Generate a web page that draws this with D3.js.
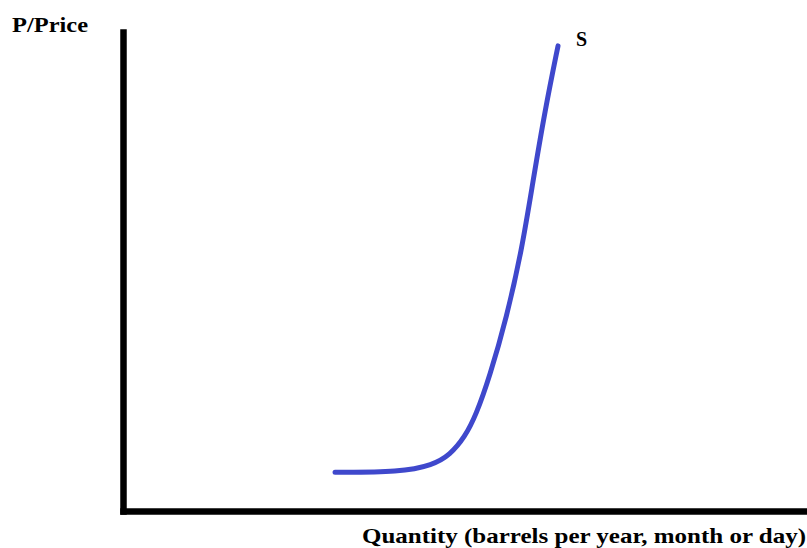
<!DOCTYPE html>
<html>
<head>
<meta charset="utf-8">
<script src="https://cdn.jsdelivr.net/npm/d3@7"></script>
<style>
  body { margin: 0; background: #fff; }
  svg { display: block; }
  text { font-family: "Liberation Serif", "Times New Roman", serif; font-weight: bold; fill: #000; }
</style>
</head>
<body>
<div id="chart"></div>
<script>
// supply curve, quantity vs price (0-100 on both axes)
var quantity = [31.0, 40.5, 45.3, 47.8, 50.0, 51.6, 53.6, 56.1, 58.3, 59.9, 61.7, 63.6];
var price    = [8.1, 8.1, 9.6, 11.7, 15.5, 20.0, 28.0, 40.5, 54.5, 68.5, 83.7, 97.1];
var curveLabel = "S";
var yTitle = "P/Price";
var xTitle = "Quantity (barrels per year, month or day)";

var width = 807, height = 548;

var svg = d3.select("#chart").append("svg")
    .attr("width", width)
    .attr("height", height);

var x = d3.scaleLinear().domain([0, 100]).range([123, 807]);
var y = d3.scaleLinear().domain([0, 100]).range([511, 32]);

// axes: no ticks, just thick black lines
var xAxis = svg.append("g")
    .attr("transform", "translate(0," + y(0) + ")")
    .call(d3.axisBottom(x).tickValues([]).tickSizeOuter(0));
xAxis.select(".domain")
    .attr("stroke", "#000")
    .attr("stroke-width", 6.5)
    .attr("stroke-linecap", "square");

var yAxis = svg.append("g")
    .attr("transform", "translate(" + x(0) + ",0)")
    .call(d3.axisLeft(y).tickValues([]).tickSizeOuter(0));
yAxis.select(".domain")
    .attr("stroke", "#000")
    .attr("stroke-width", 6.5)
    .attr("stroke-linecap", "square");

var points = quantity.map((q, i) => [q, price[i]]);

var line = d3.line()
    .x(d => x(d[0]))
    .y(d => y(d[1]))
    .curve(d3.curveBasis);

svg.append("path")
    .datum(points)
    .attr("d", line)
    .attr("fill", "none")
    .attr("stroke", "#3f48cc")
    .attr("stroke-width", 5)
    .attr("stroke-linecap", "round")
    .attr("stroke-linejoin", "round");

// labels
var last = points[points.length - 1];
svg.append("text")
    .attr("x", x(last[0]) + 18)
    .attr("y", y(last[1]))
    .style("font-size", "20px")
    .text(curveLabel);

svg.append("text")
    .attr("x", 12)
    .attr("y", 32)
    .style("font-size", "22px")
    .attr("textLength", 76)
    .attr("lengthAdjust", "spacingAndGlyphs")
    .text(yTitle);

svg.append("text")
    .attr("x", 362)
    .attr("y", 543)
    .style("font-size", "22px")
    .attr("textLength", 444)
    .attr("lengthAdjust", "spacingAndGlyphs")
    .text(xTitle);
</script>
</body>
</html>
